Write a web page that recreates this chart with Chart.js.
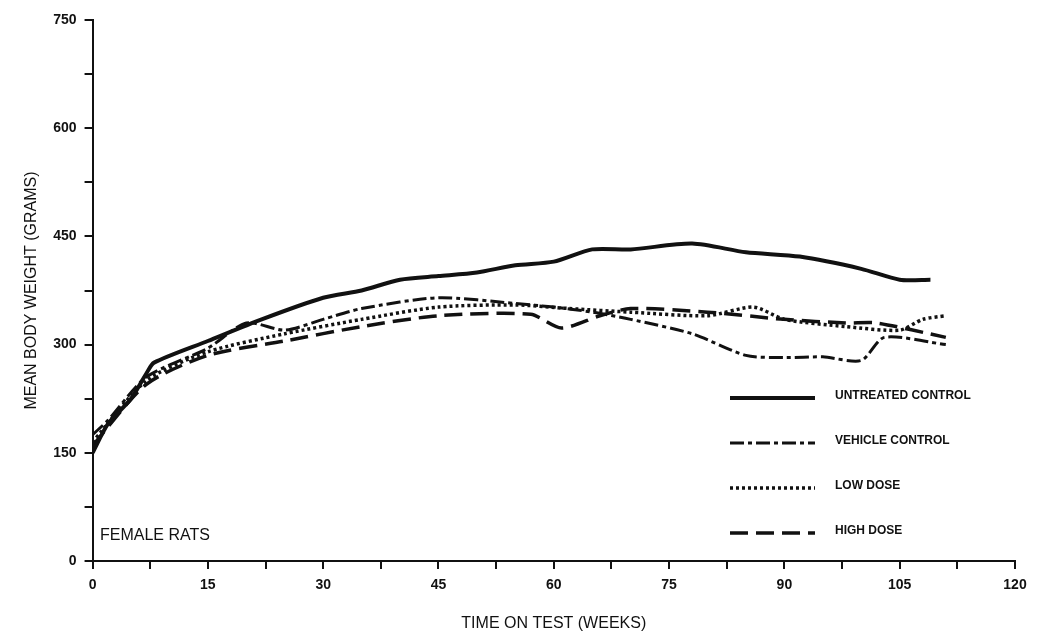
<!DOCTYPE html>
<html><head><meta charset="utf-8">
<script src="https://cdn.jsdelivr.net/npm/chart.js@4/dist/chart.umd.min.js"></script>
<style>body{margin:0;background:#fff}#wrap{width:1059px;height:637px}</style>
</head><body><div id="wrap"><canvas id="c"></canvas></div>
<script>
const untreatedX = [0,2,5,7,8,15,22,30,35,40,45,50,55,60,65,70,78,85,92,100,105,109];
const untreatedY = [150,190,225,260,275,305,335,365,375,390,395,400,410,415,432,432,440,428,422,405,390,390];
const vehicleX = [0,2,7,15,20,25,30,35,45,55,60,65,70,78,85,90,95,100,103,111];
const vehicleY = [175,195,255,295,330,320,335,350,365,357,352,345,335,315,285,282,283,278,310,300];
const lowX = [0,7,15,25,35,45,55,62,70,80,86,90,98,105,108,111];
const lowY = [165,250,290,315,335,352,355,350,345,340,352,335,325,320,335,340];
const highX = [0,7,15,25,35,45,57,61,66,70,80,90,98,102,111];
const highY = [160,245,285,305,325,340,342,323,340,350,345,335,330,330,310];
const seriesNames = ['UNTREATED CONTROL','VEHICLE CONTROL','LOW DOSE','HIGH DOSE'];
const dashes = [[], [14,4,4,4], [3,3], [18,8]];
const widths = [4,3,3.5,3.5];

const pts = (xs, ys) => xs.map((x, i) => ({x: x, y: ys[i]}));
const allData = [pts(untreatedX,untreatedY), pts(vehicleX,vehicleY), pts(lowX,lowY), pts(highX,highY)];

const legendPlugin = {
  id: 'legendInside',
  afterDraw(chart) {
    const ctx = chart.ctx;
    ctx.save();
    ctx.strokeStyle = '#111'; ctx.fillStyle = '#111';
    ctx.font = 'bold 12px "Liberation Sans", Arial';
    ctx.textBaseline = 'middle';
    seriesNames.forEach((n, i) => {
      const y = 398 + i * 45;
      ctx.lineWidth = widths[i];
      ctx.setLineDash(dashes[i]);
      ctx.beginPath(); ctx.moveTo(730, y); ctx.lineTo(815, y); ctx.stroke();
      ctx.fillText(n, 835, y - 2);
    });
    ctx.setLineDash([]);
    ctx.font = '16px "Liberation Sans", Arial';
    ctx.fillText('FEMALE RATS', 100, 536);
    ctx.restore();
  }
};

new Chart(document.getElementById('c'), {
  type: 'line',
  data: {
    datasets: allData.map((d, i) => ({
      label: seriesNames[i], data: d, borderColor: '#111', borderWidth: widths[i],
      borderDash: dashes[i], pointRadius: 0, tension: 0.25, fill: false
    }))
  },
  options: {
    responsive: true, maintainAspectRatio: false, animation: false,
    layout: {padding: {top: 20, right: 44, left: 18, bottom: 4}},
    plugins: {legend: {display: false}, tooltip: {enabled: false}},
    scales: {
      x: {
        type: 'linear', min: 0, max: 120,
        ticks: {stepSize: 7.5, padding: 8, color: '#111', font: {size: 14, weight: 'bold'}, maxRotation: 0, autoSkip: false,
          callback: v => (v % 15 === 0 ? v : '')},
        grid: {drawOnChartArea: false, color: '#111', tickLength: 8, lineWidth: 2},
        border: {color: '#111', width: 2},
        title: {display: true, text: 'TIME ON TEST (WEEKS)', color: '#111', font: {size: 16}, padding: {top: 12, bottom: 0}}
      },
      y: {
        min: 0, max: 750,
        ticks: {stepSize: 75, padding: 8, color: '#111', font: {size: 14, weight: 'bold'}, autoSkip: false,
          callback: v => (v % 150 === 0 ? v : '')},
        grid: {drawOnChartArea: false, color: '#111', tickLength: 8, lineWidth: 2},
        border: {color: '#111', width: 2},
        title: {display: true, text: 'MEAN BODY WEIGHT (GRAMS)', color: '#111', font: {size: 16}}
      }
    }
  },
  plugins: [legendPlugin]
});
</script></body></html>
